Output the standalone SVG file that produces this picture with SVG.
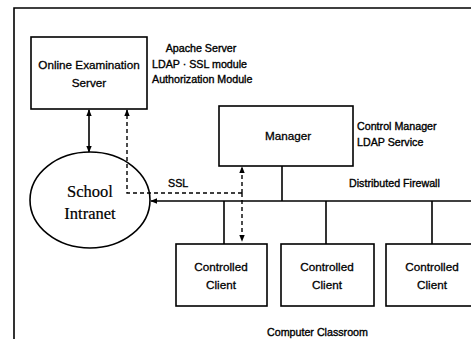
<svg xmlns="http://www.w3.org/2000/svg" width="471" height="339" viewBox="0 0 471 339">
<defs>
<marker id="ah" viewBox="0 0 10 10" refX="9" refY="5" markerWidth="7" markerHeight="7" orient="auto-start-reverse" markerUnits="userSpaceOnUse">
<path d="M0,1 L10,5 L0,9 Z" fill="#000"/>
</marker>
</defs>
<style>
.box{fill:#fff;stroke:#000;stroke-width:1.6}
.ln{fill:none;stroke:#000;stroke-width:1.6}
.dash{fill:none;stroke:#000;stroke-width:1.4;stroke-dasharray:4 3}
.t{font-family:"Liberation Sans",Arial,sans-serif;font-size:11.7px;fill:#000;stroke:#000;stroke-width:0.3;text-anchor:middle}
.a{font-family:"Liberation Sans",Arial,sans-serif;font-size:10.7px;fill:#000;stroke:#000;stroke-width:0.35}
.s{font-family:"Liberation Serif","Times New Roman",serif;font-size:16.5px;fill:#000;stroke:#000;stroke-width:0.2;text-anchor:middle}
</style>
<rect width="471" height="339" fill="#fff"/>
<g id="frame">
<path class="ln" d="M14,339 V8 H471" stroke-width="1.2"/>
</g>
<g id="school-intranet">
<ellipse cx="90" cy="200" rx="60" ry="48" fill="none" stroke="#000" stroke-width="1.6"/>
<text class="s" x="90" y="197">School</text>
<text class="s" x="90" y="219">Intranet</text>
</g>
<g id="connectors">
<line class="ln" x1="89" y1="110" x2="89" y2="152" marker-start="url(#ah)" marker-end="url(#ah)"/>
<line class="ln" x1="471" y1="201" x2="151" y2="201" marker-end="url(#ah)"/>
<line class="ln" x1="282" y1="166" x2="282" y2="201"/>
<line class="ln" x1="224" y1="201" x2="224" y2="244"/>
<line class="ln" x1="326" y1="201" x2="326" y2="244"/>
<line class="ln" x1="432" y1="201" x2="432" y2="244"/>
<path class="dash" d="M242,193 H127 V110" marker-end="url(#ah)"/>
<line class="dash" x1="242" y1="193" x2="242" y2="167" marker-end="url(#ah)"/>
<line class="dash" x1="242" y1="193" x2="242" y2="241" marker-end="url(#ah)"/>
</g>
<g id="online-server">
<rect class="box" x="31" y="37" width="116" height="72"/>
<text class="t" x="89" y="69">Online Examination</text>
<text class="t" x="89" y="87">Server</text>
</g>
<g id="apache-label">
<text class="a" x="201" y="52" text-anchor="middle">Apache Server</text>
<text class="a" x="152" y="68">LDAP · SSL module</text>
<text class="a" x="152" y="83">Authorization Module</text>
</g>
<g id="manager">
<rect class="box" x="219" y="106" width="134" height="60"/>
<text class="t" x="288" y="140" font-size="12px">Manager</text>
</g>
<g id="manager-label">
<text class="a" x="357" y="130">Control Manager</text>
<text class="a" x="357" y="146">LDAP Service</text>
</g>
<g id="ssl-label"><text class="a" x="168" y="187" font-size="11px">SSL</text></g>
<g id="firewall-label"><text class="a" x="349" y="187" font-size="12px">Distributed Firewall</text></g>
<g id="client1">
<rect class="box" x="176" y="244" width="91" height="62"/>
<text class="t" x="221" y="271">Controlled</text>
<text class="t" x="221" y="289">Client</text>
</g>
<g id="client2">
<rect class="box" x="281" y="244" width="93" height="62"/>
<text class="t" x="327" y="271">Controlled</text>
<text class="t" x="327" y="289">Client</text>
</g>
<g id="client3">
<rect class="box" x="386" y="244" width="95" height="62"/>
<text class="t" x="432" y="271">Controlled</text>
<text class="t" x="432" y="289">Client</text>
</g>
<g id="classroom-label"><text class="a" x="267" y="336" font-size="12px">Computer Classroom</text></g>
</svg>
